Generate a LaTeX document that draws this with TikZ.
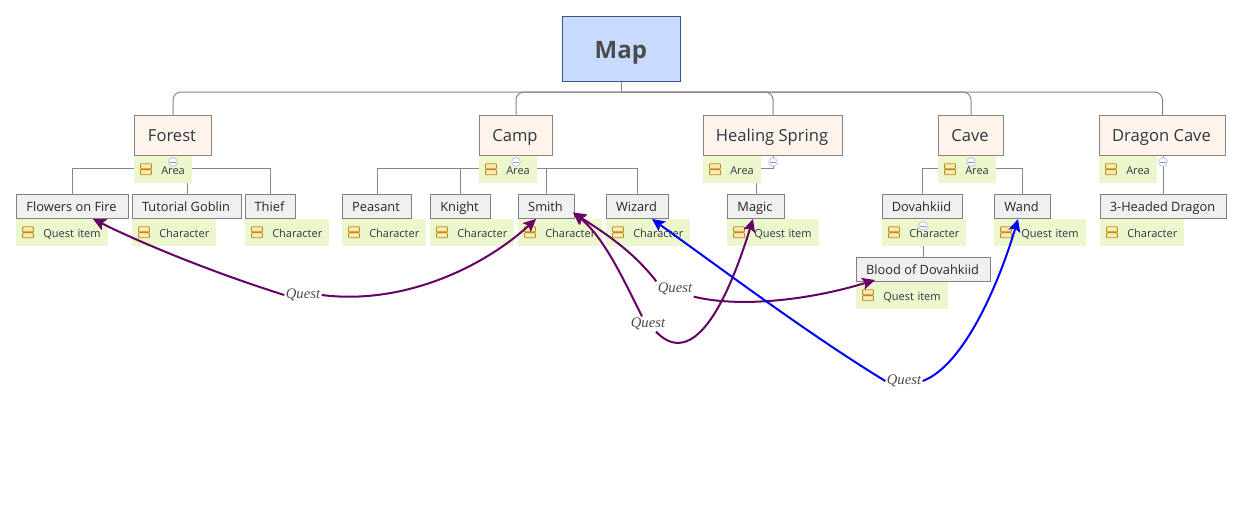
\documentclass[tikz,border=0pt]{standalone}
\usepackage{fontspec}
\setmainfont{Open Sans}
\newfontfamily\questfont{Liberation Serif}
\usetikzlibrary{arrows.meta,backgrounds}
\definecolor{mapfill}{HTML}{C9DCFF}
\definecolor{mapline}{HTML}{3A5490}
\definecolor{areafill}{HTML}{FFF4EC}
\definecolor{arealine}{HTML}{8F8379}
\definecolor{itemfill}{HTML}{F0F0F0}
\definecolor{tagfill}{HTML}{ECF7CE}
\definecolor{inktext}{HTML}{2F3640}
\definecolor{branchline}{HTML}{858585}
\definecolor{questline}{HTML}{660066}
\definecolor{iconline}{HTML}{BD8A1C}
\definecolor{iconfill}{HTML}{FBE9B0}
\definecolor{collapseline}{HTML}{B4C4EC}
\tikzset{
  mapbox/.style={draw=mapline,fill=mapfill,anchor=north west,inner sep=0pt,line width=0.75pt,
    text height=14.7pt,text depth=0pt,execute at end node=\hspace*{1pt},
    font=\fontsize{18}{20}\selectfont\bfseries,text=black!70},
  areabox/.style={draw=arealine,fill=areafill,anchor=north west,inner sep=0pt,line width=0.75pt,
    text height=8.6pt,text depth=0pt,execute at end node=\hspace*{1.5pt},
    minimum height=30pt,font=\fontsize{12.45}{15}\selectfont,text=inktext},
  itembox/.style={draw=black!50,fill=itemfill,anchor=north west,inner sep=0pt,line width=0.75pt,
    text height=7.5pt,text depth=0pt,execute at end node=\hspace*{1.5pt},
    minimum height=18pt,font=\fontsize{9.6}{12}\selectfont,text=black!85},
  tagbox/.style={fill=tagfill,anchor=north west,inner sep=0pt,minimum height=20.25pt,
    text height=7.8pt,text depth=0pt,align=left,
    font=\fontsize{8.25}{10}\selectfont,text=inktext},
  branch/.style={draw=branchline,line width=0.75pt},
  quest/.style={draw=questline,line width=1.5pt,-{Stealth[length=9.5pt,width=9pt,inset=2pt]}},
  questlabel/.style={inner sep=1pt,font=\questfont\itshape\fontsize{11}{12}\selectfont,text=black!70},
  collapse/.style={circle,draw=collapseline,fill=white,inner sep=0pt,minimum size=6.5pt,line width=0.6pt}
}
\begin{document}
\begin{tikzpicture}[x=0.75pt,y=-0.75pt]
\useasboundingbox (0,0) rectangle (1243,507);

\node[mapbox,minimum width=88.5pt,minimum height=48.75pt] (map) at (562,16) {Map};

% top level
\foreach \n/\x/\w/\t in {forest/134/78/Forest,camp/479/74/Camp,healing/703/140/Healing Spring,
    cave/938/66/Cave,dragon/1099/127/Dragon Cave}
{
  \node[areabox,minimum width=(\w-1)*0.75pt] (\n) at (\x,115) {\t};
}

% second level
\foreach \n/\x/\y/\w/\t in {flowers/16/194/113/Flowers on Fire,goblin/132/194/110/Tutorial Goblin,
    thief/245/194/51/Thief,peasant/342/194/70/Peasant,knight/430/194/61/Knight,
    smith/518/194/57/Smith,wizard/606/194/63/Wizard,magic/727/194/58/Magic,
    dovahkiid/882/194/81/Dovahkiid,wand/994/194/57/Wand,blood/856/257/135/Blood of Dovahkiid,
    headed/1100/194/127/3-Headed Dragon}
{
  \node[itembox,minimum width=(\w-1)*0.75pt] (\n) at (\x,\y) {\t};
}

% tags
\foreach \n/\w/\t in {forest/58/Area,camp/58/Area,healing/58/Area,cave/58/Area,dragon/58/Area,
    flowers/92/Quest item,goblin/84/Character,thief/84/Character,peasant/84/Character,
    knight/84/Character,smith/84/Character,wizard/84/Character,magic/92/Quest item,
    dovahkiid/84/Character,wand/92/Quest item,blood/92/Quest item,headed/84/Character}
{
  \node[tagbox,text width=\w*0.75pt] (\n-tag) at ([yshift=0.4pt]\n.south west) {\hspace*{20.25pt}\t};
  \filldraw[draw=iconline,fill=iconfill,line width=0.6pt,rounded corners=0.5pt]
    ([shift={(6.5,-5.5)}]\n-tag.west) rectangle ++(11,5)
    ([shift={(6.5,0.5)}]\n-tag.west) rectangle ++(11,5);
}

\begin{scope}[on background layer]
\coordinate (mapbus) at (map.south |- 0,92);
\draw[branch] (map.south) -- (mapbus);
\foreach \n in {forest,camp,healing,cave,dragon}
{
  \draw[branch,rounded corners=6pt] (mapbus) -| (\n.north);
}
\coordinate (forestbus) at (173,168);
\foreach \n in {flowers,goblin,thief}
  \draw[branch] (forestbus) -| (\n.north);
\coordinate (campbus) at (516,168);
\foreach \n in {peasant,knight,smith,wizard}
  \draw[branch] (campbus) -| (\n.north);
\coordinate (healingbus) at (773,168);
\draw[branch] (healing.south -| healingbus) -- (healingbus) -- ++(-20,0);
\draw[branch] (healing-tag.south -| magic.north) -- (magic.north);
\coordinate (cavebus) at (971,168);
\foreach \n in {dovahkiid,wand}
  \draw[branch] (cavebus) -| (\n.north);
\draw[branch] (dragon.south -| headed.north) -- (headed.north);
\draw[branch] (dovahkiid-tag.south -| blood.north) -- (blood.north);
\end{scope}

% collapse marks
\node[collapse] (c1) at (173,162) {};
\node[collapse] (c2) at (516,162) {};
\node[collapse] (c3) at (773,162) {};
\node[collapse] (c4) at (971,162) {};
\node[collapse] (c5) at (1163,162) {};
\node[collapse] (c6) at (923,226) {};
\foreach \n in {c1,c2,c3,c4,c5,c6}
  \draw[branchline!70!collapseline,line width=0.6pt] ([xshift=-2pt]\n.center) -- ([xshift=2pt]\n.center);

% quests
\node[questlabel] (q1) at (303,295) {Quest};
\node[questlabel] (q2) at (675,289) {Quest};
\node[questlabel] (q3) at (648,324) {Quest};
\node[questlabel] (q4) at (904,381) {Quest};

\draw[quest] (q1.west) .. controls (205,270) and (135,240) .. ([shift={(20.5,0)}]flowers.south);
\draw[quest] (q1.east) .. controls (400,305) and (480,270) .. ([shift={(-10.5,0)}]smith.south);

\draw[quest] (q2.north west) .. controls (632,250) and (603,232) .. ([shift={(-2,6)}]smith.east);
\draw[quest] (q2.south east) .. controls (740,308) and (810,300) .. ([shift={(-48.5,-2)}]blood.south);

\draw[quest] ([xshift=-4.5pt]q3.north) .. controls (625,283) and (605,238) .. ([shift={(-2,6)}]smith.east);
\draw[quest] ([xshift=6pt]q3.south) .. controls (685,362) and (718,332) .. ([shift={(-3,0)}]magic.south);

\draw[quest,draw=blue] (q4.west) .. controls (810,335) and (730,275) .. ([shift={(14.5,0)}]wizard.south);
\draw[quest,draw=blue] (q4.east) .. controls (965,365) and (1000,280) .. ([shift={(-4.5,0)}]wand.south);

\end{tikzpicture}
\end{document}
